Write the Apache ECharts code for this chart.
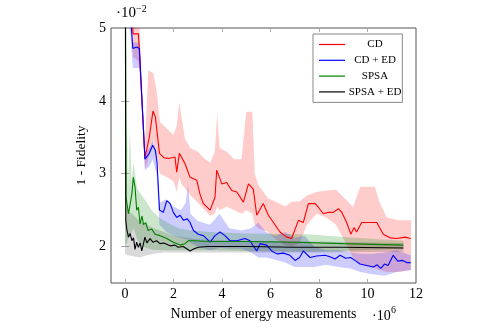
<!DOCTYPE html>
<html>
<head>
<meta charset="utf-8">
<script src="https://cdn.jsdelivr.net/npm/echarts@6/dist/echarts.min.js"></script>
<style>
  html, body { margin: 0; padding: 0; background: #fff; }
  #chart { width: 500px; height: 333px; }
</style>
</head>
<body>
<div id="chart"></div>
<script>
// x in units of 1e6 energy measurements, y in units of 1e-2 (1 - fidelity)
const xTicks = [0, 2, 4, 6, 8, 10, 12]
const yTicks = [2, 3, 4, 5]

// CD
const cdX = [0.25, 0.33, 0.55, 0.58, 0.82, 1.0, 1.15, 1.25, 1.42, 1.6, 1.79, 2.06, 2.13, 2.24, 2.47, 2.68, 2.96, 3.09, 3.23, 3.51, 3.71, 3.78, 3.99, 4.19, 4.40, 4.61, 4.88, 5.09, 5.29, 5.43, 5.70, 5.91, 6.12, 6.39, 6.67, 6.87, 7.15, 7.35, 7.56, 7.84, 7.97, 8.18, 8.38, 8.59, 8.80, 8.94, 9.14, 9.31, 9.44, 9.55, 9.76, 10.38, 10.65, 10.93, 11.2, 11.55, 11.78]
const cdMean = [5.6, 4.92, 4.92, 4.74, 3.22, 3.5, 3.86, 3.78, 3.28, 3.22, 3.21, 3.23, 3.02, 3.28, 3.14, 2.95, 2.91, 2.72, 2.59, 2.50, 2.68, 3.05, 2.86, 2.88, 2.77, 2.75, 2.61, 2.86, 2.79, 2.43, 2.59, 2.43, 2.33, 2.20, 2.13, 2.11, 2.36, 2.33, 2.59, 2.59, 2.54, 2.45, 2.47, 2.47, 2.52, 2.47, 2.33, 2.17, 2.26, 2.20, 2.33, 2.33, 2.17, 2.12, 2.11, 2.13, 2.11]
const cdBandX = [0.25, 0.33, 0.55, 0.6, 0.82, 0.96, 1.17, 1.31, 1.44, 1.72, 1.99, 2.13, 2.24, 2.34, 2.47, 2.7, 3.0, 3.3, 3.51, 3.7, 3.8, 3.9, 4.2, 4.5, 4.8, 5.0, 5.25, 5.35, 5.5, 5.9, 6.2, 6.6, 6.9, 7.2, 7.5, 7.9, 8.3, 8.7, 9.1, 9.4, 9.7, 10.3, 10.5, 10.8, 11.3, 11.8]
const cdLow = [5.3, 4.6, 4.55, 4.4, 3.05, 3.2, 3.45, 3.2, 3.0, 2.95, 2.9, 2.75, 2.95, 2.85, 2.8, 2.7, 2.6, 2.5, 2.42, 2.45, 2.55, 2.5, 2.55, 2.5, 2.45, 2.5, 2.45, 2.3, 2.25, 2.2, 2.1, 2.02, 2.0, 2.05, 2.3, 2.45, 2.4, 2.3, 2.05, 1.85, 1.75, 1.7, 1.68, 1.65, 1.65, 1.68]
const cdHigh = [5.8, 5.3, 5.3, 5.0, 3.4, 4.42, 4.38, 4.12, 3.71, 3.62, 3.53, 3.66, 3.98, 3.76, 3.48, 3.35, 3.3, 3.2, 3.15, 3.3, 3.83, 3.35, 3.3, 3.2, 3.2, 3.85, 3.85, 3.0, 2.84, 2.66, 2.62, 2.55, 2.62, 2.62, 2.7, 2.75, 2.77, 2.78, 2.65, 2.54, 2.82, 2.82, 2.61, 2.40, 2.36, 2.36]

// CD + ED
const cdedX = [0.2, 0.32, 0.48, 0.59, 0.82, 1.0, 1.14, 1.25, 1.32, 1.42, 1.58, 1.72, 1.86, 1.99, 2.13, 2.27, 2.41, 2.57, 2.68, 2.82, 3.02, 3.23, 3.51, 3.71, 3.92, 4.12, 4.33, 4.61, 4.95, 5.15, 5.43, 5.57, 5.84, 6.05, 6.26, 6.53, 6.80, 7.01, 7.2, 7.35, 7.63, 7.9, 8.25, 8.45, 8.66, 8.87, 9.1, 9.3, 9.48, 9.69, 9.97, 10.24, 10.4, 10.55, 10.7, 10.85, 11.06, 11.25, 11.45, 11.62, 11.78]
const cdedMean = [5.3, 4.72, 4.74, 4.72, 3.2, 3.28, 3.39, 3.32, 3.15, 2.50, 2.47, 2.63, 2.59, 2.47, 2.40, 2.43, 2.36, 2.38, 2.33, 2.22, 2.17, 2.15, 2.06, 2.15, 2.20, 2.15, 2.08, 2.08, 2.11, 2.08, 1.94, 2.04, 2.02, 1.94, 1.90, 1.91, 1.88, 1.81, 1.85, 1.94, 1.85, 1.87, 1.88, 1.86, 1.83, 1.88, 1.84, 1.85, 1.81, 1.76, 1.74, 1.72, 1.75, 1.70, 1.76, 1.74, 1.88, 1.80, 1.81, 1.78, 1.78]
const cdedBandX = [0.2, 0.32, 0.6, 0.82, 1.0, 1.14, 1.3, 1.42, 1.7, 2.0, 2.3, 2.5, 2.6, 2.7, 3.0, 3.5, 3.9, 4.3, 4.8, 5.2, 5.5, 5.8, 6.2, 6.6, 7.0, 7.4, 7.8, 8.3, 8.8, 9.3, 9.7, 10.2, 10.7, 11.2, 11.78]
const cdedLow = [5.0, 4.45, 4.45, 3.05, 3.1, 3.2, 3.0, 2.3, 2.2, 2.15, 2.12, 2.1, 2.1, 2.05, 2.0, 1.95, 1.98, 1.97, 1.97, 1.92, 1.85, 1.85, 1.82, 1.78, 1.72, 1.72, 1.72, 1.75, 1.72, 1.7, 1.65, 1.62, 1.6, 1.65, 1.68]
const cdedHigh = [5.6, 4.8, 4.8, 3.3, 3.35, 3.45, 3.3, 2.6, 2.65, 2.55, 2.5, 2.6, 2.86, 2.45, 2.35, 2.3, 2.45, 2.25, 2.22, 2.25, 2.33, 2.2, 2.15, 2.2, 2.12, 2.15, 2.0, 1.95, 1.95, 1.92, 1.9, 1.9, 1.92, 1.95, 1.88]

// SPSA
const spsaX = [0, 0.04, 0.14, 0.28, 0.34, 0.41, 0.48, 0.55, 0.62, 0.7, 0.76, 0.85, 0.95, 1.1, 1.24, 1.44, 1.72, 1.99, 2.27, 2.47, 2.61, 2.82, 3.5, 5, 7, 9, 11.48]
const spsaMean = [8, 2.68, 2.45, 2.72, 2.95, 2.82, 2.50, 2.54, 2.31, 2.42, 2.30, 2.33, 2.22, 2.24, 2.17, 2.15, 2.11, 2.06, 2.02, 2.04, 2.08, 2.08, 2.07, 2.07, 2.06, 2.04, 2.02]
const spsaBandX = [0, 0.08, 0.12, 0.2, 0.27, 0.35, 0.5, 0.7, 0.9, 1.1, 1.4, 1.8, 2.2, 2.7, 3.5, 5, 7.5, 9, 11.48]
const spsaLow = [2.0, 2.05, 2.1, 2.15, 2.2, 2.25, 2.1, 2.0, 1.98, 1.96, 1.95, 1.95, 1.95, 1.95, 1.95, 1.94, 1.93, 1.94, 1.97]
const spsaHigh = [3.0, 3.7, 2.8, 3.6, 2.9, 3.15, 2.8, 2.7, 2.6, 2.5, 2.4, 2.32, 2.25, 2.22, 2.2, 2.18, 2.17, 2.13, 2.08]

// SPSA + ED
const spsaedX = [0, 0.03, 0.07, 0.14, 0.21, 0.28, 0.35, 0.41, 0.48, 0.55, 0.62, 0.69, 0.76, 0.82, 0.9, 1.03, 1.15, 1.3, 1.44, 1.6, 1.86, 2.05, 2.2, 2.4, 2.54, 2.68, 2.85, 3.02, 3.4, 3.92, 5, 7, 9, 11.48]
const spsaedMean = [8, 2.36, 2.24, 2.13, 2.18, 2.08, 2.12, 1.96, 2.06, 1.99, 2.05, 1.94, 2.04, 2.13, 2.05, 2.11, 2.06, 2.08, 2.04, 2.05, 2.01, 2.02, 1.99, 2.0, 1.97, 1.94, 1.97, 1.99, 2.0, 2.0, 2.0, 1.99, 1.99, 1.98]
const spsaedBandX = [0, 0.1, 0.3, 0.6, 0.9, 1.2, 1.6, 2, 3, 5, 8, 11.48]
const spsaedLow = [1.9, 1.88, 1.87, 1.85, 1.88, 1.9, 1.92, 1.92, 1.92, 1.92, 1.92, 1.93]
const spsaedHigh = [2.6, 2.5, 2.45, 2.35, 2.3, 2.25, 2.2, 2.15, 2.1, 2.08, 2.07, 2.05]

const serif = 'Liberation Serif'
const pairs = (xs, ys) => xs.map((x, i) => [x, ys[i]])

// shaded band: one polygon, upper edge forward then lower edge back
const band = (key, xs, lo, hi, fill) => ({
    name: key + '-band', type: 'custom', z: 1, clip: true, silent: true,
    encode: { x: 0, y: 1 },
    data: [[xs[0], lo[0]]],
    renderItem: (params, api) => {
        const top = xs.map((x, i) => api.coord([x, hi[i]]))
        const bottom = xs.map((x, i) => api.coord([x, lo[i]])).reverse()
        return { type: 'polygon', shape: { points: top.concat(bottom) }, style: { fill: fill } }
    }
})
const line = (name, xs, ys, color, z) => ({
    name, type: 'line', symbol: 'none', z,
    lineStyle: { color, width: 1.1 }, itemStyle: { color },
    data: pairs(xs, ys)
})

const chart = echarts.init(document.getElementById('chart'))
const option = {
    animation: false,
    grid: { left: 111, right: 84, top: 28, bottom: 50, show: true, borderColor: '#555', borderWidth: 1 },
    legend: {
        data: ['CD', 'CD + ED', 'SPSA', 'SPSA + ED'],
        orient: 'vertical', left: 313, top: 34,
        padding: [5, 1, 5, 6],
        icon: 'rect',
        itemWidth: 26, itemHeight: 1.2, itemGap: 4.8,
        backgroundColor: '#fff', borderColor: '#888', borderWidth: 1,
        formatter: n => '{t|' + n + '}',
        textStyle: {
            rich: { t: { width: 50, lineHeight: 12, align: 'center', fontFamily: serif, fontSize: 11, color: '#000' } }
        }
    },
    xAxis: [
        {
            type: 'value', min: -0.58, max: 12,
            name: 'Number of energy measurements', nameLocation: 'middle', nameGap: 24,
            nameTextStyle: { fontFamily: serif, fontSize: 14, color: '#000' },
            axisLine: { show: false },
            axisTick: { inside: true, length: 4, customValues: xTicks, lineStyle: { color: '#aaa' } },
            axisLabel: { customValues: xTicks, margin: 4, fontFamily: serif, fontSize: 14, color: '#000' },
            splitLine: { show: false }
        },
        {
            type: 'value', position: 'top', min: -0.58, max: 12,
            axisLine: { show: false },
            axisTick: { inside: true, length: 4, customValues: xTicks, lineStyle: { color: '#aaa' } },
            axisLabel: { show: false }, splitLine: { show: false }
        }
    ],
    yAxis: [
        {
            type: 'value', min: 1.5, max: 5,
            name: '1 - Fidelity', nameLocation: 'middle', nameGap: 22,
            nameTextStyle: { fontFamily: serif, fontSize: 13.5, color: '#000' },
            axisLine: { show: false },
            axisTick: { inside: true, length: 4, customValues: yTicks, lineStyle: { color: '#aaa' } },
            axisLabel: { customValues: yTicks, margin: 5, fontFamily: serif, fontSize: 14, color: '#000' },
            splitLine: { show: false }
        },
        {
            type: 'value', position: 'right', min: 1.5, max: 5,
            axisLine: { show: false },
            axisTick: { inside: true, length: 4, customValues: yTicks, lineStyle: { color: '#aaa' } },
            axisLabel: { show: false }, splitLine: { show: false }
        }
    ],
    graphic: [
        { type: 'text', left: 116, top: 6, style: { text: '·10', fontFamily: serif, fontSize: 15, fill: '#000' } },
        { type: 'text', left: 136, top: 4, style: { text: '−2', fontFamily: serif, fontSize: 10, fill: '#000' } },
        { type: 'text', left: 372, top: 309, style: { text: '·10', fontFamily: serif, fontSize: 14, fill: '#000' } },
        { type: 'text', left: 391, top: 305, style: { text: '6', fontFamily: serif, fontSize: 10, fill: '#000' } }
    ],
    series: [
        band('cd', cdBandX, cdLow, cdHigh, 'rgba(255,0,0,0.2)'),
        band('cded', cdedBandX, cdedLow, cdedHigh, 'rgba(0,0,255,0.2)'),
        band('spsa', spsaBandX, spsaLow, spsaHigh, 'rgba(0,128,0,0.2)'),
        band('spsaed', spsaedBandX, spsaedLow, spsaedHigh, 'rgba(0,0,0,0.15)'),
        line('CD', cdX, cdMean, '#ff0000', 3),
        line('CD + ED', cdedX, cdedMean, '#0000ff', 4),
        line('SPSA', spsaX, spsaMean, '#008000', 5),
        line('SPSA + ED', spsaedX, spsaedMean, '#000000', 6)
    ]
}
chart.setOption(option)
</script>
</body>
</html>
